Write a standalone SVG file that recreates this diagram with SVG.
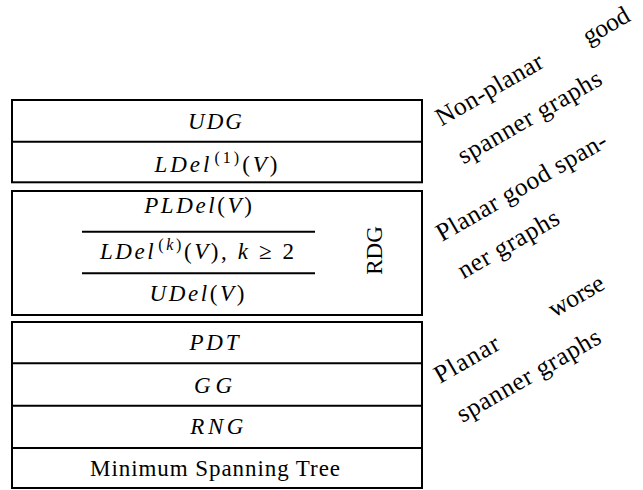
<svg xmlns="http://www.w3.org/2000/svg" width="643" height="490" viewBox="0 0 643 490">
<style>
.box{fill:#fff;stroke:#000;stroke-width:2}
.sep{stroke:#000;stroke-width:2}
text{font-family:"Liberation Serif","Times New Roman","DejaVu Serif",serif;fill:#000}
.t{font-size:23px}
.mi{font-style:italic}
.c{text-anchor:middle}
.r{font-size:25.5px}
</style>
<rect width="643" height="490" fill="#fff"/>
<g id="group-nonplanar">
  <rect class="box" x="12" y="100" width="410" height="82.3"/>
  <line class="sep" x1="12" y1="141.7" x2="422" y2="141.7"/>
  <g id="udg"><text class="t mi c" x="216" y="128.5" letter-spacing="2">UDG</text></g>
  <g id="ldel1"><text class="t c" x="217.5" y="172" letter-spacing="3"><tspan class="mi">LDel</tspan><tspan font-size="16" dx="2" dy="-9">(1)</tspan><tspan dy="9">(</tspan><tspan class="mi">V</tspan>)</text></g>
</g>
<g id="group-planar-good">
  <rect class="box" x="12" y="191" width="410" height="124"/>
  <line class="sep" x1="82" y1="231.7" x2="315" y2="231.7"/>
  <line class="sep" x1="82" y1="273.3" x2="315" y2="273.3"/>
  <g id="pldel"><text class="t c" x="199.3" y="212.5" letter-spacing="2.6"><tspan class="mi">PLDel</tspan>(<tspan class="mi">V</tspan>)</text></g>
  <g id="ldelk"><text class="t c" x="198.3" y="259" letter-spacing="2.6"><tspan class="mi">LDel</tspan><tspan font-size="16" dx="2" dy="-9">(<tspan class="mi">k</tspan>)</tspan><tspan dy="9">(</tspan><tspan class="mi">V</tspan>), <tspan class="mi">k</tspan> ≥ 2</text></g>
  <g id="udel"><text class="t c" x="198.3" y="301" letter-spacing="2.6"><tspan class="mi">UDel</tspan>(<tspan class="mi">V</tspan>)</text></g>
  <g id="rdg"><text class="t c" transform="translate(382,250.5) rotate(-90)" x="0" y="0">RDG</text></g>
</g>
<g id="group-planar-worse">
  <rect class="box" x="12" y="322" width="410" height="166"/>
  <line class="sep" x1="12" y1="363.3" x2="422" y2="363.3"/>
  <line class="sep" x1="12" y1="405.7" x2="422" y2="405.7"/>
  <line class="sep" x1="12" y1="448" x2="422" y2="448"/>
  <g id="pdt"><text class="t mi c" x="215.4" y="350" letter-spacing="2.8">PDT</text></g>
  <g id="gg"><text class="t mi c" x="213" y="392.5"><tspan>G</tspan><tspan dx="5">G</tspan></text></g>
  <g id="rng"><text class="t mi c" x="218.7" y="434" letter-spacing="3.6">RNG</text></g>
  <g id="mst"><text class="t c" x="215" y="476" textLength="250" lengthAdjust="spacing">Minimum Spanning Tree</text></g>
</g>
<g id="label-nonplanar" transform="translate(441.5,126.5) rotate(-30)">
  <text class="r" x="0" y="0" textLength="120" lengthAdjust="spacing">Non-planar</text>
  <text class="r" x="168" y="3" textLength="50" lengthAdjust="spacing">good</text>
  <text class="r" x="0" y="44" textLength="162" lengthAdjust="spacing">spanner graphs</text>
</g>
<g id="label-planar-good" transform="translate(442,242) rotate(-30)">
  <text class="r" x="0" y="0" textLength="193" lengthAdjust="spacing">Planar good span-</text>
  <text class="r" x="0" y="43" textLength="113" lengthAdjust="spacing">ner graphs</text>
</g>
<g id="label-planar-worse" transform="translate(440,384) rotate(-30)">
  <text class="r" x="0" y="0" textLength="71" lengthAdjust="spacing">Planar</text>
  <text class="r" x="132" y="0" textLength="60" lengthAdjust="spacing">worse</text>
  <text class="r" x="0" y="45" textLength="162" lengthAdjust="spacing">spanner graphs</text>
</g>
</svg>
